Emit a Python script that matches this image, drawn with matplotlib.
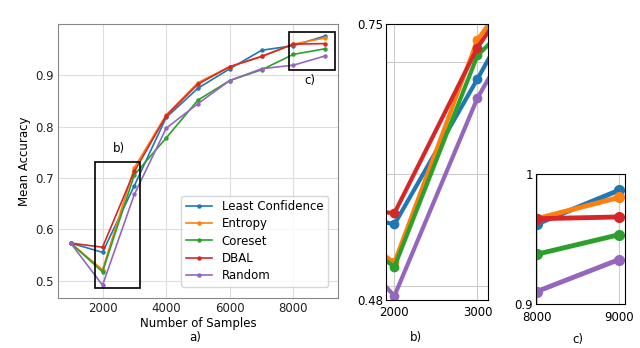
import matplotlib
matplotlib.use("Agg")
import matplotlib.pyplot as plt
from matplotlib.patches import Rectangle

samples = [1000, 2000, 3000, 4000, 5000, 6000, 7000, 8000, 9000]
series_names = ["Least Confidence", "Entropy", "Coreset", "DBAL", "Random"]
least_conf = [0.573, 0.555, 0.685, 0.818, 0.875, 0.913, 0.949, 0.958, 0.977]
entropy = [0.573, 0.521, 0.720, 0.823, 0.886, 0.917, 0.937, 0.961, 0.973]
coreset = [0.573, 0.517, 0.706, 0.778, 0.852, 0.890, 0.911, 0.941, 0.952]
dbal = [0.573, 0.565, 0.713, 0.821, 0.883, 0.917, 0.937, 0.961, 0.962]
random_s = [0.573, 0.491, 0.668, 0.797, 0.845, 0.890, 0.913, 0.920, 0.938]
all_series = [least_conf, entropy, coreset, dbal, random_s]
colors = ["#1f77b4", "#ff7f0e", "#2ca02c", "#d62728", "#9467bd"]

fig = plt.figure(figsize=(6.4, 3.48), dpi=100)
fs = 8.5

# ---- main panel a ----
ax = fig.add_axes([0.0906, 0.1437, 0.4375, 0.787])
for name, ys, c in zip(series_names, all_series, colors):
    ax.plot(samples, ys, color=c, lw=1.2, marker="o", ms=2.2, label=name)
ax.set_xlim(600, 9400)
ax.set_ylim(0.466, 1.0)
ax.set_xticks([2000, 4000, 6000, 8000])
ax.set_yticks([0.5, 0.6, 0.7, 0.8, 0.9])
ax.grid(True, color="#dddddd", lw=0.8)
ax.set_axisbelow(True)
for s in ax.spines.values():
    s.set_color("#888888")
ax.tick_params(labelsize=fs, length=0, pad=3, colors="#222222")
ax.set_xlabel("Number of Samples", fontsize=fs, labelpad=1)
ax.set_ylabel("Mean Accuracy", fontsize=fs, labelpad=3)
leg = ax.legend(loc="lower right", fontsize=fs, frameon=True, handlelength=2.2,
                borderpad=0.4, labelspacing=0.35, bbox_to_anchor=(0.985, 0.02))
leg.get_frame().set_edgecolor("#cccccc")
ax.add_patch(Rectangle((1779, 0.485), 3167 - 1779, 0.732 - 0.485, fill=False,
                       ec="black", lw=1.2, zorder=5))
ax.add_patch(Rectangle((7868, 0.911), 9297 - 7868, 0.984 - 0.911, fill=False,
                       ec="black", lw=1.2, zorder=5))
ax.text(2500, 0.757, "b)", fontsize=fs, ha="center", va="center")
ax.text(8530, 0.890, "c)", fontsize=fs, ha="center", va="center")
fig.text(195 / 640, 1 - 338 / 348, "a)", fontsize=fs, ha="center", va="center")

# ---- zoom panel b ----
axb = fig.add_axes([0.6027, 0.138, 0.16, 0.793])
for ys, c in zip(all_series, colors):
    axb.plot(samples, ys, color=c, lw=3, marker="o", ms=6, solid_capstyle="round")
axb.set_xlim(1896, 3128)
axb.set_ylim(0.4875, 0.734)
axb.set_xticks([2000, 3000])
axb.set_yticks([0.4875, 0.734])
axb.set_yticklabels(["0.48", "0.75"])
axb.set_yticks([0.5, 0.6, 0.7], minor=True)
axb.grid(True, which="minor", axis="y", color="#cccccc", lw=0.8)
axb.grid(True, which="major", axis="x", color="#cccccc", lw=0.8)
axb.set_axisbelow(True)
axb.tick_params(which="both", length=0, labelsize=fs, pad=2)
axb.tick_params(axis="x", pad=4)
for s in axb.spines.values():
    s.set_color("black")
fig.text(415.7 / 640, 1 - 337 / 348, "b)", fontsize=fs, ha="center", va="center")

# ---- zoom panel c ----
axc = fig.add_axes([0.837, 0.1264, 0.1395, 0.3727])
for ys, c in zip(all_series, colors):
    axc.plot(samples, ys, color=c, lw=3.5, marker="o", ms=7)
axc.set_xlim(7988, 9073)
axc.set_ylim(0.913, 0.986)
axc.set_xticks([8000, 9000])
axc.set_yticks([0.913, 0.986])
axc.set_yticklabels(["0.9", "1"])
axc.grid(True, axis="x", color="#cccccc", lw=0.8)
axc.set_axisbelow(True)
axc.tick_params(length=0, labelsize=fs, pad=2)
axc.tick_params(axis="x", pad=5)
for s in axc.spines.values():
    s.set_color("black")
fig.text(578 / 640, 1 - 340 / 348, "c)", fontsize=fs, ha="center", va="center")

fig.savefig("out.png", dpi=100)
